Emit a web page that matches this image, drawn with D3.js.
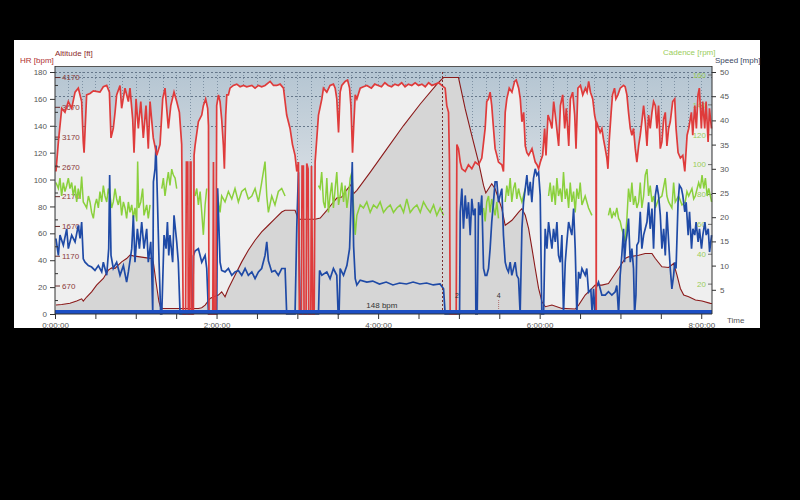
<!DOCTYPE html>
<html>
<head>
<meta charset="utf-8">
<script src="https://cdn.jsdelivr.net/npm/d3@7"></script>
<style>
  body { margin: 0; background: #000; }
  svg text { font-family: "Liberation Sans", Arial, sans-serif; font-size: 8px; }
</style>
</head>
<body>
<div id="chart"></div>
<script>
// time in minutes
var hrData = [[0.7,106],[2.5,128],[5,153],[7.4,150],[9.9,158],[12.4,153],[14.9,165],[17.3,168],[19.8,158],[21,128],[21.6,120],[23.5,163],[26,164],[28.5,166],[33.4,165],[35.9,169],[38.4,170],[40.4,165],[41.6,131],[43.3,138],[44.6,150],[45.8,163],[48.3,170],[49.5,153],[52,168],[54.5,158],[55.7,168],[57.7,145],[58.7,120],[60.2,160],[61.9,138],[63.7,158],[65.6,131],[67.6,155],[69.3,123],[70.6,158],[73,131],[75.6,118],[78,126],[80,160],[81.7,168],[84.2,138],[86,155],[88.4,165],[90.4,158],[92.4,150],[94.1,126],[95.2,0],[97,0],[97.6,113],[98.6,113],[99,0],[100,0],[100.5,113],[101,113],[101.5,0],[102.8,0],[103.3,118],[104,125],[106.5,143],[109,148],[110.2,155],[111.9,160],[113.4,153],[114,140],[114.4,0],[117.2,0],[117.7,113],[118.2,0],[119.5,0],[120.1,155],[121.4,163],[122.6,158],[123.8,145],[125.1,125],[125.8,108],[126.8,148],[127.6,163],[128.8,163],[130,168],[132.5,170],[135,171],[137.5,169],[140,170],[142.4,169],[146.2,170],[148.6,168],[151.1,170],[153.5,169],[156,170],[159.8,173],[162.3,170],[164.7,170],[167.2,171],[169.7,168],[170.9,158],[172.1,148],[174.6,138],[176.4,126],[178.3,118],[179.6,106],[180.8,113],[181.5,0],[183,0],[183.5,110],[184.5,110],[185,0],[186.5,0],[187,112],[188,108],[188.5,0],[190,0],[190.5,110],[191.5,0],[192.5,0],[193.2,113],[195.7,148],[198.2,160],[199.4,168],[201.9,165],[204.3,170],[206.8,171],[208.1,168],[209.3,160],[210.6,135],[211.8,165],[213,170],[215.5,173],[217.3,174],[218.8,168],[219.8,155],[221,120],[221.8,138],[223,163],[224.2,160],[226.7,168],[229.1,169],[231.6,170],[235,168],[237.5,171],[240,170],[242.5,169],[245,172],[247.5,170],[250,169],[252.5,171],[255,170],[257.5,172],[260,169],[262.5,171],[265,170],[267.5,172],[270,170],[272.5,171],[275,169],[277.5,172],[280,170],[282.5,171],[285,172],[287.3,170],[289.8,168],[291,155],[292.3,150],[293,113],[293.5,0],[298,0],[298.5,126],[299.7,123],[301,113],[302.2,108],[304.7,106],[307.1,111],[309.6,108],[312.1,113],[314.6,111],[317,116],[319.5,138],[320.7,158],[322,160],[323.2,165],[324.4,155],[325.7,138],[326.9,123],[328.2,118],[329.4,113],[331.9,111],[333.1,106],[334.4,150],[335.6,160],[337.4,168],[339.4,165],[341.4,173],[342.6,174],[344.4,168],[345.6,160],[346.8,143],[348.1,150],[349.3,125],[350.5,120],[351.8,118],[354.3,123],[356.7,113],[358,111],[359.2,108],[360.5,113],[362.2,118],[363.7,138],[364.7,118],[366.2,148],[367.9,143],[369.1,138],[370.4,158],[371.6,148],[374.1,125],[375.4,155],[377.1,163],[378.6,138],[379.8,153],[381.6,125],[382.8,160],[384.5,165],[386,148],[387,123],[388.4,168],[390.3,170],[392,163],[394,168],[395.2,165],[396.4,173],[397.7,165],[399.4,160],[400.8,148],[401.8,143],[402,0],[402.2,143],[403.2,140],[404.9,135],[406.2,138],[407.4,130],[408.7,123],[409.9,116],[410.7,108],[411.6,128],[413.1,150],[414.1,163],[415.6,168],[416.6,160],[418.1,163],[419.8,168],[421,169],[422.3,170],[423.5,169],[424.8,163],[426,150],[427.3,138],[428.5,133],[429.7,138],[431,123],[432.2,113],[433.5,125],[434.7,133],[435.9,143],[437.2,155],[438.4,143],[439.7,125],[440.9,148],[442.1,138],[443.4,150],[444.6,158],[445.9,155],[447.1,138],[448.3,155],[449.6,123],[450.8,128],[452.1,145],[453.3,150],[454.5,125],[455.8,138],[457,143],[458.8,158],[460.3,160],[461.3,138],[462.8,120],[464.5,116],[466.3,118],[467.8,106],[469.5,133],[470.7,138],[472.7,150],[473.7,133],[475.2,155],[476.4,138],[477.6,163],[478.6,168],[480.1,138],[481.1,158],[482.6,138],[483.6,158],[485.1,128],[486.1,153],[487.6,138]];

var altData = [[0.7,350],[5,360],[11.1,380],[16.1,420],[19.8,455],[21,415],[23.5,485],[27.2,573],[30.9,685],[35.9,796],[39.6,936],[42.1,975],[44.6,964],[47,1020],[49.5,1075],[53.2,1131],[55.7,1187],[58.2,1176],[63.1,1159],[68.1,1142],[71.8,1131],[73,1075],[75,741],[77.2,406],[78.5,305],[80,295],[90,293],[106.5,293],[109,305],[111.5,350],[115.2,462],[117.7,490],[121.4,518],[123.8,573],[126.3,490],[128.8,629],[133.7,852],[138.7,1075],[143.6,1271],[148.6,1438],[153.5,1578],[158.5,1690],[163.4,1801],[168.4,1912],[170.9,1941],[178.3,1941],[180.8,1790],[193.2,1790],[197,1812],[201.9,1941],[206.8,2080],[209.3,2147],[213,2164],[215.5,2250],[219.8,2370],[221.8,2219],[224.2,2276],[234.2,2582],[246.5,2972],[258.9,3364],[271.3,3726],[283.7,4061],[288.6,4170],[299.7,4170],[304.7,3642],[309.6,3196],[314.6,2749],[318.3,2359],[320,2231],[324.4,2387],[326.9,2303],[331.9,1968],[334.4,1690],[339.4,1773],[344.4,1912],[346.8,1968],[349.3,1857],[351.8,1633],[354.3,1298],[356.7,964],[359.2,629],[361.7,406],[364.2,322],[369.1,350],[376.5,294],[386.4,283],[388.9,350],[393.8,518],[398.8,629],[401.2,685],[406.2,685],[411.1,713],[413.6,796],[418.6,964],[423.5,1131],[426,1159],[433.5,1187],[438.4,1215],[443.4,1215],[445.9,1131],[450.8,992],[455.8,981],[459.5,1047],[462,852],[464.5,629],[467,518],[470.7,490],[475.7,434],[480.6,417],[486.8,378],[488,375]];

var speedData = [[0.7,15.6],[2.5,12.1],[3.7,16.3],[6.2,14.2],[8.7,17.6],[9.9,13.5],[12.4,16.3],[14.9,14.9],[17.3,18.3],[18.6,15.6],[19.8,19],[21,11.4],[22.3,10.7],[24.8,10],[27.2,9.7],[29.7,9],[32.2,10],[34.7,8.7],[35.9,10.7],[38.4,8],[39.9,13.5],[40.6,28.7],[41.6,12.1],[43.3,9.4],[45.8,10.7],[48.3,8],[50.8,10],[53.2,6.6],[54.5,8.7],[57,13.5],[58.2,20.4],[59.4,10.7],[61.2,17.6],[62.7,13.5],[64.4,19],[66.1,13.5],[68.1,17.6],[69.3,10.7],[71.1,14.9],[71.8,9.4],[72.6,0],[73.1,27.3],[74.3,30],[75,34.8],[76,24.5],[77.3,10.7],[78.5,0],[79.3,0],[81,16.3],[82.5,13.5],[83.5,19],[84.5,12.1],[85.4,16.3],[87.4,10.7],[88.4,20.4],[90.4,14.9],[91.6,10.7],[92.9,0],[102.3,0],[102.8,12],[104,13],[106.5,13.5],[109,10.7],[111.5,12.1],[112.7,9.4],[114,0],[120.1,0],[120.8,26],[122.6,10.7],[123.8,9],[126.3,8.7],[128.8,9.4],[131.3,8],[133.7,8.7],[136.2,9],[138.7,8],[141.2,9.4],[143.6,8],[146.2,8.7],[148.6,7.3],[151.1,8.7],[153.5,9.4],[156,12.1],[157.3,14.9],[158.5,11],[161,8.7],[163.4,9],[165.9,8],[168.4,9.4],[170.9,9.4],[172.1,0],[178.3,0],[179.6,18],[180.8,29.3],[181.5,10],[182.1,0],[195.7,0],[196.5,9],[198.2,8],[201.9,8.7],[204.3,7.3],[206.8,9.4],[209.3,8],[210.3,0],[211,0],[211.8,9.4],[214.3,8],[216.8,10],[218.8,13.5],[219.8,22],[220.8,31.4],[221.8,14],[223,7.3],[224.2,6],[226.7,7],[231.6,6.6],[236,6.8],[241,6.2],[246,6.6],[251,6],[256,6.4],[261,6.2],[266,6.6],[271,6.2],[276,6.4],[281,6],[286,6.2],[288.6,5.2],[289.8,0],[300.5,0],[301,21.1],[302.2,25.9],[303.4,17.6],[304.7,24.5],[305.9,19.7],[307.1,23.1],[308.4,16.3],[309.6,23.8],[310.8,20.4],[312.1,21.8],[312.6,0],[313.6,0],[314.6,23.1],[315.8,20.4],[317,24.5],[318.3,9.4],[319.5,8],[320.7,8],[322,9.4],[323.2,13.5],[324.4,19],[325.7,23.1],[326.9,27.3],[328.2,27.3],[329.4,23.1],[330.6,24.5],[331.9,25.9],[333.1,16.3],[334.4,10.7],[335.6,9.4],[336.8,8.7],[338.1,10.7],[339.3,8],[340.6,9.4],[341.8,10.7],[343,8],[344.3,7.3],[345.5,0],[346.8,17.6],[348,23.1],[349.3,25.9],[350.5,28.7],[351.7,24.5],[353,27.3],[354.2,23.1],[355.4,28],[356.7,30],[357.9,28.7],[359.2,29.3],[360.4,24.5],[361.6,0],[362.9,0],[364.1,17.6],[365.4,13.5],[366.6,19],[367.8,16.3],[369.1,13.5],[370.3,17.6],[371.6,14.9],[372.8,19],[374,12.1],[375.3,10.7],[376.5,16.3],[377.7,0],[379,10.7],[380.2,14.9],[381.5,19],[382.7,17.6],[383.9,16.3],[385.2,21.8],[386.4,13.5],[387.6,0],[388.9,8.7],[390.1,7.3],[391.4,9.4],[393.8,8],[395,9.4],[396.3,4.5],[398,5],[399,0],[400,5.2],[401.2,0],[402,5.5],[403.7,6.6],[406.2,3.9],[408.7,3.9],[411.1,4.6],[413.6,3.9],[416.1,4.6],[417.3,5.9],[418.6,0],[419.8,8],[421,12.1],[422.3,17.6],[423,10.7],[424,14.9],[424.8,16.3],[426,19.7],[427.3,10.7],[428.5,13.5],[429.7,9.4],[430.5,0],[431.5,3.9],[432.2,14.2],[433.5,14.9],[434.7,21.1],[435.9,13.5],[437.2,16.3],[438.4,17.6],[439.7,19],[440.9,23.1],[442.1,17.6],[443.4,21.8],[444.6,13.5],[445.9,24.5],[447.1,26.6],[448.3,24.5],[449.6,20.4],[450.8,13.5],[452.1,17.6],[453.3,12.1],[454.5,21.1],[455.8,14.9],[457,9.4],[458.2,5.2],[459.5,8],[460.3,10.7],[461.3,9.4],[462.8,23.1],[463.8,26.6],[465.3,25.9],[466.3,24.5],[467.8,21.1],[468.8,23.1],[470.3,16.3],[471.3,21.1],[472.8,13.5],[473.8,17.6],[475.2,16.3],[476.2,19],[477.7,14.9],[478.7,17.6],[480.2,13.5],[481.2,16.3],[482.7,19],[483.7,16.3],[485.2,17.6],[486.2,12.8],[487.7,16.3]];

// null = no cadence recorded (gap in the line)
var cadData = [[0.7,88],[2.5,84],[3.7,91],[4.9,79],[6.2,88],[7.4,82],[8.7,86],[9.9,91],[11.1,84],[12.4,88],[13.6,79],[14.9,86],[16.1,75],[17.3,84],[18.6,77],[19.8,92],[21,75],[22.3,73],[23.5,71],[24.8,79],[26,75],[27.2,68],[28.5,64],[29.7,73],[30.9,77],[32.2,71],[33.4,82],[34.7,75],[35.9,86],[37.1,79],[38.4,75],[39.6,84],[40.9,79],[42.1,71],[43.3,75],[44.6,84],[45.8,77],[47,73],[48.3,79],[49.5,66],[50.8,75],[52,71],[53.2,64],[54.5,75],[55.7,68],[57,73],[58.2,64],[59.4,71],[60.7,62],[61.4,102],[62.2,71],[63.7,75],[65.1,84],[66.1,66],[68.1,73],[69.3,64],[70.6,73],[71.5,null],[79.3,84],[80.5,91],[81.7,79],[83,88],[84.2,95],[85.4,86],[86.7,97],[87.9,93],[89.2,91],[90.4,84],[91,null],[104,79],[105.3,84],[106.5,73],[107.8,82],[109,68],[110.2,53],[111.5,73],[112.7,84],[113.5,null],[120.1,84],[121.4,75],[122.6,68],[123.8,79],[126.3,75],[128.8,82],[131.3,77],[133.7,84],[136.2,75],[138.7,82],[141.2,84],[143.6,77],[146.2,79],[148.6,84],[151.1,75],[153.5,88],[156,102],[157.3,79],[158.5,68],[161,79],[163.4,73],[165.9,82],[168.4,84],[170.9,79],[171.5,null],[195.7,86],[196.9,84],[198.1,95],[199.4,75],[200.6,71],[201.9,91],[203.1,68],[204.3,79],[205.6,88],[206.8,71],[208.1,84],[209.3,95],[210.6,73],[211.8,79],[213,88],[214.3,75],[215.5,86],[216.8,71],[218,79],[219.3,91],[220.5,95],[221.8,71],[223,53],[224.2,66],[226.7,73],[229.1,71],[231.6,75],[234.1,68],[236.6,73],[239.1,71],[241.5,75],[244,68],[246.5,71],[249,73],[251.4,68],[253.9,71],[256.4,73],[258.9,68],[261.3,77],[263.8,68],[266.3,71],[268.8,73],[271.3,68],[273.7,75],[276.2,71],[278.7,68],[281.2,73],[283.6,66],[286.1,71],[288.6,66],[289.5,null],[318.3,71],[319.5,62],[320.7,75],[322,79],[323.2,68],[324.4,77],[325.7,71],[326.9,66],[328.2,75],[329.4,64],[330.5,null],[334.4,75],[335.6,86],[336.8,79],[338.1,91],[339.3,75],[340.6,84],[341.8,88],[343,77],[344.3,84],[345.5,79],[346.8,75],[349.3,84],[350.5,null],[366.6,79],[367.8,88],[369.1,75],[370.3,86],[371.6,73],[372.8,91],[374,79],[375.3,84],[376.5,75],[377.7,95],[379,77],[380.2,84],[381.5,71],[382.7,88],[383.9,75],[385.2,82],[386.4,68],[387.6,84],[388.9,77],[390.1,88],[391.4,73],[393.8,79],[396.3,71],[398.8,66],[399.5,null],[411.1,66],[412.3,71],[413.6,64],[414.8,68],[416.1,66],[417.3,71],[418.6,64],[419.8,62],[421,57],[422.3,53],[423.5,48],[424.8,64],[426,84],[427.3,75],[428.5,88],[429.7,73],[431,79],[432.2,71],[433.5,75],[434.7,88],[435.9,71],[437.2,79],[438.4,93],[439.7,97],[440.9,79],[442.1,86],[443.4,75],[444.6,79],[445.9,71],[448.3,77],[450.8,79],[453.3,91],[454.5,79],[455.8,75],[458.2,71],[459.5,88],[460.7,75],[463.2,79],[465.7,73],[468.1,75],[469.4,82],[470.7,79],[473.1,84],[474.4,77],[475.6,79],[478.1,88],[479.4,84],[480.6,93],[481.9,84],[483.1,91],[484.4,79],[485.6,84],[487.7,75]];

var hrTicks = [0, 20, 40, 60, 80, 100, 120, 140, 160, 180];
var altTicks = [670, 1170, 1670, 2170, 2670, 3170, 3670, 4170];
var cadTicks = [20, 40, 60, 80, 100, 120, 140, 160];
var speedTicks = [5, 10, 15, 20, 25, 30, 35, 40, 45, 50];
var zoneLines = [140, 162, 176, 180];   // HR zone limits (dotted)
var timeLabels = ["0:00:00", "2:00:00", "4:00:00", "6:00:00", "8:00:00"];
var lapTime = 287.6;
var lapAvg = { t: 242.8, text: "148 bpm" };
var lapMarks = [{ t: 298.5, text: "2" }, { t: 329.5, text: "4" }];

// note: "top" is taken by window.top, so plotTop
var plotLeft = 55, plotRight = 712, plotTop = 66, plotBottom = 314;

var svg = d3.select("#chart").append("svg")
  .attr("width", 800)
  .attr("height", 500);

svg.append("rect").attr("width", 800).attr("height", 500).attr("fill", "#000");
svg.append("rect").attr("x", 14).attr("y", 40).attr("width", 746).attr("height", 288).attr("fill", "#fff");

var x = d3.scaleLinear().domain([0, 488]).range([plotLeft, plotRight]);
var yHr = d3.scaleLinear().domain([0, 180]).range([plotBottom, 72]);
var ySpeed = d3.scaleLinear().domain([0, 50]).range([plotBottom, 72]);
var yAlt = d3.scaleLinear().domain([200, 4263]).range([plotBottom, 72]);
var yCad = d3.scaleLinear().domain([0, 162]).range([plotBottom, 72]);

// background gradient
var defs = svg.append("defs");
var grad = defs.append("linearGradient").attr("id", "bg").attr("x1", 0).attr("y1", 0).attr("x2", 0).attr("y2", 1);
grad.append("stop").attr("offset", "0%").attr("stop-color", "#b3c4d1");
grad.append("stop").attr("offset", "45%").attr("stop-color", "#d6dde3");
grad.append("stop").attr("offset", "75%").attr("stop-color", "#e8eaec");
grad.append("stop").attr("offset", "100%").attr("stop-color", "#ededed");

svg.append("rect")
  .attr("x", plotLeft).attr("y", plotTop)
  .attr("width", plotRight - plotLeft).attr("height", plotBottom - plotTop)
  .attr("fill", "url(#bg)");

// dotted grid (under the HR fill)
var grid = svg.append("g");
grid.selectAll(".vg")
  .data(d3.range(10, 488, 10))
  .enter().append("line")
  .attr("x1", function (d) { return Math.round(x(d)) + 0.5; })
  .attr("x2", function (d) { return Math.round(x(d)) + 0.5; })
  .attr("y1", 72).attr("y2", plotBottom)
  .attr("stroke", "#7f92a4").attr("stroke-width", 1).attr("stroke-dasharray", "1,2");
grid.selectAll(".hg")
  .data(zoneLines)
  .enter().append("line")
  .attr("x1", plotLeft).attr("x2", plotRight)
  .attr("y1", function (d) { return Math.round(yHr(d)) + 0.5; })
  .attr("y2", function (d) { return Math.round(yHr(d)) + 0.5; })
  .attr("stroke", "#66778a").attr("stroke-width", 1).attr("stroke-dasharray", "2,2");

// HR area
var hrArea = d3.area()
  .x(function (d) { return x(d[0]); })
  .y0(yHr(0))
  .y1(function (d) { return yHr(d[1]); });
svg.append("path").datum(hrData).attr("d", hrArea).attr("fill", "#efefef");

// altitude area
var altArea = d3.area()
  .x(function (d) { return x(d[0]); })
  .y0(plotBottom)
  .y1(function (d) { return yAlt(d[1]); });
svg.append("path").datum(altData).attr("d", altArea).attr("fill", "#d6d6d6");

svg.append("line")
  .attr("x1", plotLeft).attr("x2", plotRight).attr("y1", plotTop + 0.5).attr("y2", plotTop + 0.5)
  .attr("stroke", "#555");

// altitude labels inside the plot
var altG = svg.append("g");
altTicks.forEach(function (v) {
  altG.append("line")
    .attr("x1", plotLeft).attr("x2", plotLeft + 5)
    .attr("y1", yAlt(v)).attr("y2", yAlt(v))
    .attr("stroke", "#6b2a2a");
  altG.append("text")
    .attr("x", plotLeft + 7).attr("y", yAlt(v)).attr("dy", "0.35em")
    .attr("fill", "#8b3a3a").text(v);
});

// cadence labels inside the plot
var cadG = svg.append("g");
cadTicks.forEach(function (v) {
  cadG.append("line")
    .attr("x1", plotRight - 4).attr("x2", plotRight)
    .attr("y1", yCad(v)).attr("y2", yCad(v))
    .attr("stroke", "#6f6f6f");
  cadG.append("text")
    .attr("x", plotRight - 6).attr("y", yCad(v)).attr("dy", "0.35em")
    .attr("text-anchor", "end")
    .attr("fill", "#9acd5a").text(v);
});

// lines
var altLine = d3.line().x(function (d) { return x(d[0]); }).y(function (d) { return yAlt(d[1]); });
svg.append("path").datum(altData).attr("d", altLine)
  .attr("fill", "none").attr("stroke", "#8b1a1a").attr("stroke-width", 1.1);

var cadLine = d3.line()
  .defined(function (d) { return d[1] != null; })
  .x(function (d) { return x(d[0]); })
  .y(function (d) { return yCad(d[1]); });
svg.append("path").datum(cadData).attr("d", cadLine)
  .attr("fill", "none").attr("stroke", "#8ad03c").attr("stroke-width", 1.5);

var speedLine = d3.line().x(function (d) { return x(d[0]); }).y(function (d) { return ySpeed(d[1]); });
svg.append("path").datum(speedData).attr("d", speedLine)
  .attr("fill", "none").attr("stroke", "#1f4aa6").attr("stroke-width", 1.7);

var hrLine = d3.line().x(function (d) { return x(d[0]); }).y(function (d) { return yHr(d[1]); });
svg.append("path").datum(hrData).attr("d", hrLine)
  .attr("fill", "none").attr("stroke", "#df3b3b").attr("stroke-width", 1.7);

// lap marker
svg.append("line")
  .attr("x1", Math.round(x(lapTime)) + 0.5).attr("x2", Math.round(x(lapTime)) + 0.5)
  .attr("y1", 72).attr("y2", plotBottom)
  .attr("stroke", "#7a3030").attr("stroke-dasharray", "2,2");
lapMarks.forEach(function (m) {
  svg.append("text").attr("x", x(m.t)).attr("y", 298).attr("text-anchor", "middle")
    .attr("fill", "#333").style("font-size", "7px").text(m.text);
});
svg.append("line")
  .attr("x1", x(lapMarks[1].t)).attr("x2", x(lapMarks[1].t))
  .attr("y1", 300).attr("y2", 310)
  .attr("stroke", "#b07070").attr("stroke-dasharray", "1,1");
svg.append("text").attr("x", x(lapAvg.t)).attr("y", 308).attr("text-anchor", "middle")
  .attr("fill", "#333").text(lapAvg.text);

// blue bar along the bottom
svg.append("rect")
  .attr("x", plotLeft).attr("y", plotBottom - 4)
  .attr("width", plotRight - plotLeft).attr("height", 4)
  .attr("fill", "#1c4fc4");

// axes
var yAxisL = d3.axisLeft(yHr).tickValues(hrTicks).tickSize(5).tickPadding(3);
var gl = svg.append("g").attr("transform", "translate(" + plotLeft + ",0)").call(yAxisL);
gl.select(".domain").attr("d", "M0," + plotTop + "V" + plotBottom);
svg.append("g").selectAll("line")
  .data(d3.range(10, 180, 20))
  .enter().append("line")
  .attr("x1", plotLeft).attr("x2", plotLeft + 3)
  .attr("y1", function (d) { return yHr(d); }).attr("y2", function (d) { return yHr(d); })
  .attr("stroke", "#333");

var yAxisR = d3.axisRight(ySpeed).tickValues(speedTicks).tickSize(4).tickPadding(4);
var gr = svg.append("g").attr("transform", "translate(" + plotRight + ",0)").call(yAxisR);
gr.select(".domain").attr("d", "M0," + plotTop + "V" + plotBottom);

var xAxis = d3.axisBottom(x).tickValues(d3.range(0, 488, 30)).tickSize(5)
  .tickFormat(function (d) { return d % 120 === 0 ? timeLabels[d / 120] : ""; });
var gx = svg.append("g").attr("transform", "translate(0," + plotBottom + ")").call(xAxis);
gx.select(".domain").attr("d", "M" + plotLeft + ",0H" + plotRight);

[gl, gr, gx].forEach(function (g) {
  g.selectAll("text").attr("fill", "#555").style("font-size", "8px")
    .style("font-family", "Liberation Sans, Arial, sans-serif");
  g.selectAll("line").attr("stroke", "#333");
  g.select(".domain").attr("stroke", "#333");
});

// titles
svg.append("text").attr("x", 20).attr("y", 63).attr("fill", "#b03030").text("HR [bpm]");
svg.append("text").attr("x", 55).attr("y", 56).attr("fill", "#8b2a2a").text("Altitude [ft]");
svg.append("text").attr("x", 663).attr("y", 55).attr("fill", "#9acd5a").text("Cadence [rpm]");
svg.append("text").attr("x", 715).attr("y", 63).attr("fill", "#3a4660").text("Speed [mph]");
svg.append("text").attr("x", 727).attr("y", 323).attr("fill", "#555").text("Time");
</script>
</body>
</html>
